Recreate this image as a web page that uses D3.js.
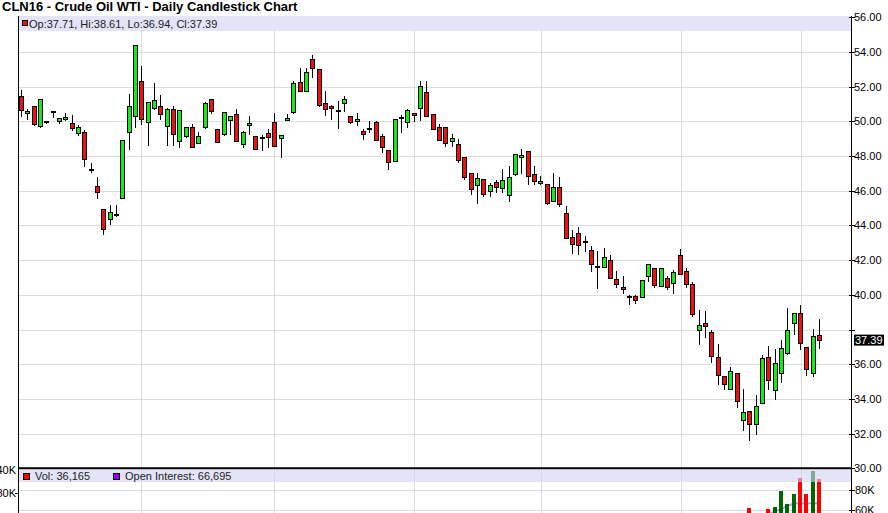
<!DOCTYPE html>
<html><head><meta charset="utf-8">
<script src="https://cdn.jsdelivr.net/npm/d3@7"></script>
<style>
body{margin:0;background:#fff;overflow:hidden;}
svg{display:block;font-family:"Liberation Sans",Arial,sans-serif;}
</style>
</head><body>
<svg id="chart" width="888" height="513"></svg>
<script>
// ---- data (CLN16 daily, Aug 5 2015 .. Feb 4 2016) ----
const opens  = [51.46,50.48,50.88,49.73,49.96,50.52,50.04,50.13,49.90,49.33,
                49.38,47.17,46.27,44.94,44.38,44.62,45.58,49.38,50.31,52.33,
                49.96,50.77,50.88,49.73,50.71,48.87,49.17,49.67,48.75,49.67,
                51.29,49.54,49.25,50.08,50.42,48.67,49.79,49.15,49.06,49.33,
                49.96,49.04,50.08,50.54,52.27,51.75,53.58,53.02,51.06,50.88,
                50.60,51.08,50.31,50.02,49.44,49.54,49.96,49.15,48.37,47.71,
                50.17,49.96,50.50,50.79,51.69,50.40,49.69,49.69,48.88,48.71,
                47.96,47.04,46.35,46.69,46.00,46.50,46.17,45.75,46.94,47.96,
                48.31,46.98,46.46,46.40,45.42,46.23,44.71,43.33,43.56,43.04,
                42.56,41.60,41.60,41.98,40.90,40.44,39.96,39.94,39.87,41.08,
                41.54,40.52,40.96,40.71,42.31,41.38,40.65,37.96,38.35,37.87,
                36.42,35.33,34.60,35.52,32.77,33.31,32.54,33.79,36.42,34.50,
                35.52,36.67,38.35,38.98,37.00,35.52,37.71];
const highs  = [51.83,50.73,50.90,51.30,50.00,50.56,50.20,50.50,50.38,49.80,
                49.48,47.58,46.79,44.94,45.19,45.19,48.92,51.60,54.42,53.20,
                51.10,52.20,51.50,50.80,50.90,50.65,49.67,49.85,49.40,51.10,
                51.30,49.58,50.54,50.31,50.73,49.44,50.31,49.17,49.19,49.58,
                50.50,49.19,50.44,52.35,53.08,53.08,53.81,53.02,51.75,50.96,
                51.17,51.46,50.31,50.50,49.58,50.00,50.04,49.29,48.37,50.15,
                50.38,50.73,50.50,52.30,52.30,50.40,49.83,49.69,49.25,48.96,
                47.96,47.04,47.04,46.69,46.46,46.60,47.23,47.42,48.12,48.38,
                48.31,47.42,46.85,46.40,47.00,46.81,45.13,43.75,43.90,43.40,
                42.79,42.50,42.69,42.30,41.40,41.06,40.00,40.00,40.87,41.75,
                41.54,41.54,41.06,41.44,42.65,41.54,40.75,39.15,39.08,38.00,
                37.15,35.33,35.85,35.52,34.60,33.31,34.21,36.52,37.04,36.90,
                37.42,39.27,38.98,39.40,37.00,38.02,38.61];
const lows   = [50.29,50.15,49.80,49.70,49.90,50.25,49.90,50.10,49.48,49.20,
                47.42,47.08,45.58,43.48,44.10,44.55,45.58,48.42,49.65,49.85,
                48.65,50.70,50.15,48.65,48.65,48.50,49.10,48.52,48.75,49.60,
                50.48,48.80,49.20,49.29,48.87,48.52,49.29,48.40,48.37,48.52,
                48.58,47.94,50.08,50.50,51.75,51.75,52.56,50.90,50.38,50.15,
                49.60,50.60,49.90,49.77,48.96,49.38,48.90,48.23,47.27,47.70,
                49.38,49.67,50.00,50.06,50.31,49.58,48.94,48.58,48.60,47.65,
                46.69,45.79,45.31,45.69,45.69,45.92,45.92,45.40,46.88,47.04,
                46.40,46.37,46.37,45.25,45.42,45.12,43.27,42.40,42.37,42.50,
                41.40,40.38,41.60,40.96,40.48,40.10,39.48,39.52,39.87,40.81,
                40.44,40.50,40.33,40.13,41.19,40.48,38.77,37.15,37.58,36.13,
                34.88,34.56,34.60,33.54,32.23,31.65,32.00,33.79,34.60,34.02,
                34.98,36.58,37.77,36.90,35.37,35.33,36.94];
const closes = [50.67,50.62,49.85,51.29,49.96,50.52,50.19,50.27,49.60,49.67,
                47.83,47.17,45.92,43.79,44.77,44.62,48.92,50.88,54.42,50.15,
                51.10,51.23,50.42,50.71,49.27,50.65,49.67,48.52,49.15,51.06,
                50.60,48.81,50.54,50.31,48.87,49.38,49.90,48.40,49.06,49.10,
                48.58,49.19,50.19,52.23,51.75,52.85,53.08,50.92,50.71,50.77,
                50.60,51.31,49.96,50.15,49.25,49.54,48.90,48.52,47.65,50.15,
                50.17,50.67,50.35,52.04,50.31,49.58,48.94,48.77,49.02,47.75,
                46.79,46.08,46.75,45.83,46.31,46.23,46.60,46.79,48.12,48.08,
                46.85,46.54,46.58,45.31,46.23,45.25,43.27,42.94,42.85,43.04,
                41.79,41.60,42.21,40.96,40.63,40.35,39.85,39.71,40.87,41.75,
                40.58,41.54,40.44,41.31,41.19,40.62,38.88,38.29,38.23,36.48,
                35.40,34.85,35.60,33.87,33.25,32.54,33.60,36.38,35.08,36.08,
                36.96,37.96,38.98,37.25,35.75,37.63,37.39];
const priceTicks = [56,54,52,50,48,46,44,42,40,38,36,34,32,30];
const monthLineIdx = [19,40,62.1,82.1,104.2,123.2];   // first session of Sep..Feb
// volume / open interest: only the sessions that reach into the visible strip
const volStartIdx = 115;
const volumes = [62000,52000,50000,61000,63000,79000,66000,76000,92000,76000,99000,91000];
const oiStartIdx = 118;
const openInterest = [55500,58500,61000,64000,66500,66800,66800,66700,66695];
const volTicks = [80000,60000];
const leftVolLabels = ["40K","80K"];
const title = "CLN16 - Crude Oil WTI - Daily Candlestick Chart";
const legendTop = "Op:37.71, Hi:38.61, Lo:36.94, Cl:37.39";
const legendVol = "Vol: 36,165";
const legendOI = "Open Interest: 66,695";

// ---- layout ----
const svg = d3.select("#chart");
const L = 19, R = 851, TOP = 16, SEP = 468.3, BOTTOM = 513;
const GREEN = "#11ee11", RED = "#ee1111", GRID = "#dcdcdc", BAND = "#e4e4f8";

const x = d3.scaleLinear().domain([0, closes.length - 1]).range([21, 819]);
const y = d3.scaleLinear().domain([30, 56]).range([468.3, 17.3]);
const yv = d3.scaleLinear().domain([60000, 100000]).range([510, 470]);
const yLeft = d3.scalePoint().domain(leftVolLabels).range([470, 493]);

const px = v => Math.round(v) + 0.5;

// title
svg.append("text").attr("x", 2).attr("y", 11)
  .attr("font-size", 13).attr("font-weight", "bold").attr("fill", "#000").text(title);

// gridlines (price)
svg.append("g").selectAll("line").data(priceTicks.filter(t => t > 30)).join("line")
  .attr("x1", L).attr("x2", R).attr("y1", d => px(y(d))).attr("y2", d => px(y(d)))
  .attr("stroke", GRID).attr("stroke-width", 1);
// gridlines (volume)
svg.append("g").selectAll("line").data(volTicks).join("line")
  .attr("x1", L).attr("x2", R).attr("y1", d => px(yv(d))).attr("y2", d => px(yv(d)))
  .attr("stroke", GRID).attr("stroke-width", 1);
// month lines
svg.append("g").selectAll("line").data(monthLineIdx).join("line")
  .attr("x1", d => px(x(d))).attr("x2", d => px(x(d))).attr("y1", TOP).attr("y2", BOTTOM)
  .attr("stroke", GRID).attr("stroke-width", 1);

// top legend band
svg.append("rect").attr("x", L).attr("y", TOP).attr("width", R - L).attr("height", 15).attr("fill", BAND);

// candles
const idx = d3.range(closes.length);
const cg = svg.append("g");
cg.selectAll("line.wick").data(idx).join("line").attr("class", "wick")
  .attr("x1", i => px(x(i))).attr("x2", i => px(x(i)))
  .attr("y1", i => Math.round(y(highs[i]))).attr("y2", i => Math.round(y(lows[i])) + 1)
  .attr("stroke", "#000").attr("stroke-width", 1);
cg.selectAll("rect.body").data(idx).join("rect").attr("class", "body")
  .attr("x", i => Math.round(x(i)) - 1.5)
  .attr("width", 4)
  .attr("y", i => {
    if (opens[i] === closes[i]) return Math.round(y(closes[i])) - 0.5;
    return px(y(Math.max(opens[i], closes[i])));
  })
  .attr("height", i => {
    if (opens[i] === closes[i]) return 1;
    return Math.max(1, Math.round(y(Math.min(opens[i], closes[i]))) - Math.round(y(Math.max(opens[i], closes[i]))));
  })
  .attr("fill", i => closes[i] > opens[i] ? GREEN : (closes[i] < opens[i] ? RED : "#000"))
  .attr("stroke", "#000").attr("stroke-width", 1);

// open interest line
const oiData = openInterest.map((v, k) => [oiStartIdx + k, v]);
svg.append("path").datum(oiData)
  .attr("d", d3.line().x(d => x(d[0])).y(d => yv(d[1])))
  .attr("fill", "none").attr("stroke", "#9955dd").attr("stroke-opacity", 0.6).attr("stroke-width", 2);

// volume bars
const volData = volumes.map((v, k) => [volStartIdx + k, v]);
svg.append("g").selectAll("rect").data(volData).join("rect")
  .attr("x", d => Math.round(x(d[0])) - 2).attr("width", 4)
  .attr("y", d => yv(d[1])).attr("height", d => BOTTOM + 10 - yv(d[1]))
  .attr("fill", d => closes[d[0]] >= opens[d[0]] ? "#006600" : "#ff0000");

// volume legend band (translucent, over the bars)
svg.append("rect").attr("x", L).attr("y", 470).attr("width", R - L).attr("height", 12)
  .attr("fill", "#d4d4f4").attr("fill-opacity", 0.62);

// separator
svg.append("line").attr("x1", L).attr("x2", R).attr("y1", SEP).attr("y2", SEP)
  .attr("stroke", "#000").attr("stroke-width", 2);

// axes lines
svg.append("line").attr("x1", px(L - 1)).attr("x2", px(L - 1)).attr("y1", TOP).attr("y2", BOTTOM)
  .attr("stroke", "#000");
svg.append("line").attr("x1", px(R)).attr("x2", px(R)).attr("y1", TOP).attr("y2", BOTTOM)
  .attr("stroke", "#000");

// right price axis
const lastClose = closes[closes.length - 1];
const rg = svg.append("g").attr("font-size", 11).attr("fill", "#000");
rg.selectAll("line").data(priceTicks).join("line")
  .attr("x1", R - 2).attr("x2", R + 4).attr("y1", d => px(y(d))).attr("y2", d => px(y(d)))
  .attr("stroke", "#000");
rg.selectAll("text").data(priceTicks.filter(t => Math.abs(t - lastClose) > 1)).join("text")
  .attr("x", R + 3).attr("y", d => y(d) + 4).text(d => d.toFixed(2));

// volume axis (right)
const vg = svg.append("g").attr("font-size", 11).attr("fill", "#000");
vg.selectAll("line").data(volTicks).join("line")
  .attr("x1", R - 2).attr("x2", R + 4).attr("y1", d => px(yv(d))).attr("y2", d => px(yv(d)))
  .attr("stroke", "#000");
vg.selectAll("text").data(volTicks).join("text")
  .attr("x", R + 4).attr("y", d => yv(d) + 4).text(d => (d / 1000) + "K");

// left labels (clipped at the page edge, as in the original)
const lg = svg.append("g").attr("font-size", 11).attr("fill", "#000");
lg.selectAll("text").data(leftVolLabels).join("text")
  .attr("x", 16).attr("text-anchor", "end").attr("y", d => yLeft(d) + 4).text(d => d);
lg.append("line").attr("x1", L - 4).attr("x2", L).attr("y1", px(yLeft(leftVolLabels[1]))).attr("y2", px(yLeft(leftVolLabels[1])))
  .attr("stroke", "#000");

// last price tag
svg.append("rect").attr("x", R + 3).attr("y", y(lastClose) - 5.5).attr("width", 30).attr("height", 11).attr("fill", "#000");
svg.append("text").attr("x", R + 4).attr("y", y(lastClose) + 4).attr("font-size", 11)
  .attr("fill", "#fff").text(lastClose.toFixed(2));

// top legend
svg.append("rect").attr("x", 22.5).attr("y", 20.5).attr("width", 5).attr("height", 5)
  .attr("fill", RED).attr("stroke", "#000");
svg.append("text").attr("x", 29).attr("y", 27.5).attr("font-size", 11).attr("fill", "#222").text(legendTop);

// volume legend
svg.append("rect").attr("x", 23.5).attr("y", 473.5).attr("width", 6).attr("height", 6)
  .attr("fill", "#ff0000").attr("stroke", "#000");
svg.append("text").attr("x", 35).attr("y", 480).attr("font-size", 11).attr("fill", "#222").text(legendVol);
svg.append("rect").attr("x", 113.5).attr("y", 473.5).attr("width", 6).attr("height", 6)
  .attr("fill", "#9900ff").attr("stroke", "#000");
svg.append("text").attr("x", 125).attr("y", 480).attr("font-size", 11).attr("fill", "#222").text(legendOI);
</script>
</body></html>
